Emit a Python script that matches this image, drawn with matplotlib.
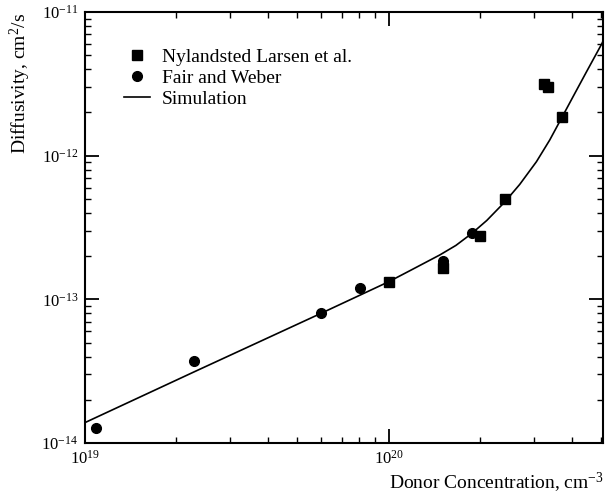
import numpy as np
import matplotlib
matplotlib.use('Agg')
import matplotlib.pyplot as plt
from matplotlib.ticker import LogLocator, LogFormatterMathtext, NullFormatter

plt.rcParams['font.family'] = ['Liberation Serif', 'DejaVu Serif']
plt.rcParams['mathtext.fontset'] = 'custom'
plt.rcParams['mathtext.rm'] = 'Liberation Serif'
plt.rcParams['mathtext.it'] = 'Liberation Serif:italic'

# Nylandsted Larsen et al. (squares)
nl_conc = [1.0e20, 1.51e20, 1.99e20, 2.41e20, 3.24e20, 3.35e20, 3.71e20]
nl_diff = [1.33e-13, 1.645e-13, 2.78e-13, 4.97e-13, 3.16e-12, 3.02e-12, 1.86e-12]

# Fair and Weber (circles)
fw_conc = [1.087e19, 2.29e19, 5.97e19, 8.03e19, 1.51e20, 1.88e20]
fw_diff = [1.28e-14, 3.75e-14, 8.0e-14, 1.206e-13, 1.85e-13, 2.88e-13]

# simulation curve
sim_conc = [1.0e19, 2.284e19, 5.975e19, 1.0e20, 1.172e20, 1.472e20, 1.662e20, 1.875e20,
            2.101e20, 2.408e20, 2.697e20, 3.061e20, 3.386e20, 3.715e20, 4.04e20,
            4.47e20, 5.03e20, 5.05e20]
sim_diff = [1.387e-14, 3.124e-14, 7.98e-14, 1.327e-13, 1.581e-13, 2.037e-13, 2.372e-13, 2.874e-13,
            3.54e-13, 4.76e-13, 6.31e-13, 9.08e-13, 1.286e-12, 1.85e-12, 2.574e-12,
            3.825e-12, 6.04e-12, 6.16e-12]

x_major = [1e19, 1e20]
y_major = [1e-14, 1e-13, 1e-12, 1e-11]

fig = plt.figure(figsize=(6.07, 4.97), dpi=100)
ax = fig.add_axes([85/607, 1 - 443/497, (602.5 - 85)/607, (443 - 12)/497])

ax.plot(nl_conc, nl_diff, 's', color='black', markersize=7.5, label='Nylandsted Larsen et al.')
ax.plot(fw_conc, fw_diff, 'o', color='black', markersize=7, label='Fair and Weber')
ax.plot(sim_conc, sim_diff, '-', color='black', linewidth=1.2, label='Simulation')

ax.set_xscale('log')
ax.set_yscale('log')
ax.set_xlim(1e19, 5.05e20)
ax.set_ylim(1e-14, 1e-11)

ax.set_xticks(x_major)
ax.set_yticks(y_major)
ax.xaxis.set_minor_locator(LogLocator(base=10, subs=np.arange(2, 10)))
ax.yaxis.set_minor_locator(LogLocator(base=10, subs=np.arange(2, 10)))
ax.xaxis.set_major_formatter(LogFormatterMathtext())
ax.yaxis.set_major_formatter(LogFormatterMathtext())
ax.xaxis.set_minor_formatter(NullFormatter())
ax.yaxis.set_minor_formatter(NullFormatter())

for s in ax.spines.values():
    s.set_linewidth(1.5)
ax.tick_params(which='major', direction='in', length=10, width=1.3, labelsize=12,
               top=True, right=True, pad=5)
ax.tick_params(which='minor', direction='in', length=4, width=1.0, top=True, right=True)

leg = ax.legend(loc='upper left', bbox_to_anchor=(0.075, 0.916), frameon=False,
                fontsize=14, handlelength=1.35, handletextpad=0.6, borderpad=0,
                borderaxespad=0, labelspacing=0.18)

fig.text(20/607, 1 - 83/497, 'Diffusivity, cm$^2$/s', rotation=90,
         ha='center', va='center', fontsize=14)
fig.text(604/607, 1 - 483/497, 'Donor Concentration, cm$^{-3}$',
         ha='right', va='center', fontsize=14)

fig.savefig('out.png', dpi=100)
